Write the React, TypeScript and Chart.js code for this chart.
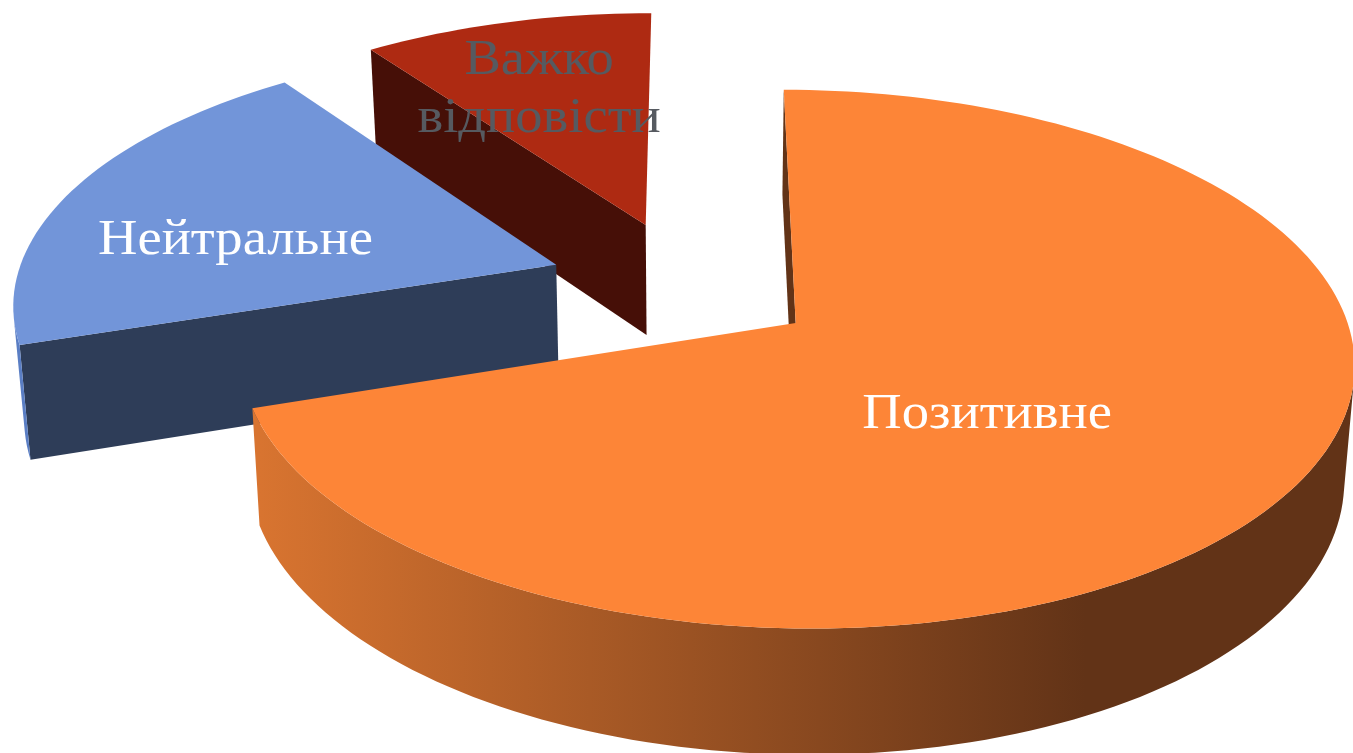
import React, { useEffect, useRef } from "react";
import { Chart, registerables } from "chart.js";

Chart.register(...registerables);

const categories = ["Позитивне", "Нейтральне", "Важко\nвідповісти"];
const seriesValues = [70, 20, 10];
const explodePercent = [22, 27.9, 28.3];
const explodeTurnDeg = [-2, 3.8, -1.4];

const topColors = ["#FD8537", "#7295D9", "#AE2A12"];
const wallColors = ["#623317", "#2E3D58", "#460F07"];
const rimColors = ["gradient", "#5A7EC4", "#7A1D0C"];
const labelColors = ["#FFFFFF", "#FFFFFF", "#565A60"];
const labelOffsets = [
  [0.324, -0.322],
  [-0.611, 0.109],
  [-0.227, 0.627],
];

const VIEW = { cx: 695, cy: 291, a: 543, b: 256, k: 0.132, vx: 700, conv: 0.016, h0: 101, hk: 0.04 };
const FONT = '51px "Liberation Serif", serif';
const TEXT_STRETCH = 1.07;
const LINE_HEIGHT = 58;
const LABEL_DROP = 3;

type P = { x: number; y: number };

const project = (x: number, z: number): P => {
  const s = 1 / (1 + VIEW.k * z);
  return { x: VIEW.cx + VIEW.a * x * s, y: VIEW.cy - VIEW.b * z * s };
};
const drop = (p: P): P => ({
  x: p.x + (VIEW.vx - p.x) * VIEW.conv,
  y: p.y + VIEW.h0 + VIEW.hk * p.y,
});

const pie3d = {
  id: "pie3d",
  beforeDatasetsDraw(chart: any) {
    const ctx: CanvasRenderingContext2D = chart.ctx;
    const arcs = chart.getDatasetMeta(0).data as any[];
    const order = arcs.map((_, i) => i).reverse();

    const geo = arcs.map((arc, i) => {
      const { startAngle, endAngle } = arc.getProps(["startAngle", "endAngle"], true);
      const mid = (startAngle + endAngle) / 2 + (explodeTurnDeg[i] * Math.PI) / 180;
      const d = (arc.options.offset || 0) / 100;
      const ax = d * Math.cos(mid);
      const az = -d * Math.sin(mid);
      const steps = Math.max(8, Math.round(((endAngle - startAngle) / (2 * Math.PI)) * 240));
      const rim: P[] = [];
      for (let j = 0; j <= steps; j++) {
        const a = startAngle + ((endAngle - startAngle) * j) / steps;
        rim.push(project(ax + Math.cos(a), az - Math.sin(a)));
      }
      return { ax, az, apex: project(ax, az), rim };
    });

    const faces = (p: P, q: P) => {
      const dp = drop(p);
      const ex = q.x - p.x;
      const ey = q.y - p.y;
      return ex * (dp.y - p.y) - ey * (dp.x - p.x) < 0;
    };
    const fillWall = (points: P[], style: any) => {
      ctx.beginPath();
      points.forEach((p, i) => (i ? ctx.lineTo(p.x, p.y) : ctx.moveTo(p.x, p.y)));
      [...points].reverse().forEach((p) => {
        const b = drop(p);
        ctx.lineTo(b.x, b.y);
      });
      ctx.closePath();
      ctx.fillStyle = style;
      ctx.fill();
    };

    const grad = ctx.createLinearGradient(260, 0, 1085, 0);
    grad.addColorStop(0, "#D87430");
    grad.addColorStop(1, wallColors[0]);

    order.forEach((i) => {
      const { apex, rim } = geo[i];
      // straight cut wall on the slice's leading edge
      const first = rim[0];
      if (faces(apex, first)) fillWall([apex, first], wallColors[i]);
      // curved outer wall: contiguous front-facing runs
      const style = rimColors[i] === "gradient" ? grad : rimColors[i];
      let run: P[] = [];
      for (let j = 0; j < rim.length - 1; j++) {
        if (faces(rim[j], rim[j + 1])) {
          if (!run.length) run.push(rim[j]);
          run.push(rim[j + 1]);
        } else if (run.length) {
          fillWall(run, style);
          run = [];
        }
      }
      if (run.length) fillWall(run, style);
      // top face
      ctx.beginPath();
      ctx.moveTo(apex.x, apex.y);
      rim.forEach((p) => ctx.lineTo(p.x, p.y));
      ctx.closePath();
      ctx.fillStyle = topColors[i];
      ctx.fill();
    });

    // labels
    ctx.font = FONT;
    ctx.textAlign = "center";
    ctx.textBaseline = "middle";
    order.forEach((i) => {
      const { ax, az } = geo[i];
      const c = project(ax + labelOffsets[i][0], az + labelOffsets[i][1]);
      const lines = categories[i].split("\n");
      ctx.fillStyle = labelColors[i];
      lines.forEach((line, n) => {
        ctx.save();
        ctx.translate(c.x, c.y + LABEL_DROP + (n - (lines.length - 1) / 2) * LINE_HEIGHT);
        ctx.scale(TEXT_STRETCH, 1);
        ctx.fillText(line, 0, 0);
        ctx.restore();
      });
    });
    return false;
  },
};

export default function App() {
  const ref = useRef<HTMLCanvasElement>(null);
  useEffect(() => {
    const chart = new Chart(ref.current!, {
      type: "pie",
      data: {
        labels: categories,
        datasets: [
          {
            data: seriesValues,
            backgroundColor: topColors,
            offset: explodePercent,
            hoverOffset: 0,
            borderWidth: 0,
          },
        ],
      },
      options: {
        responsive: false,
        animation: false,
        events: [],
        plugins: { legend: { display: false }, tooltip: { enabled: false }, title: { display: false } },
      },
      plugins: [pie3d],
    } as any);
    return () => chart.destroy();
  }, []);
  return (
    <div style={{ position: "fixed", left: 0, top: 0, width: 1353, height: 753, background: "#fff", overflow: "hidden" }}>
      <canvas ref={ref} width={1353} height={753} style={{ display: "block" }} />
    </div>
  );
}
